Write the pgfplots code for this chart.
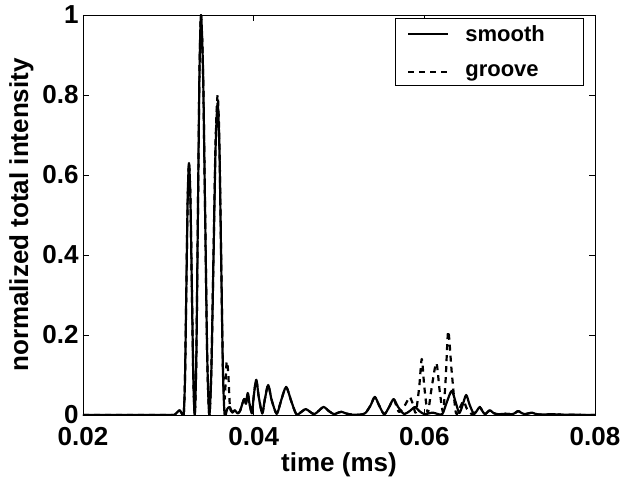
\documentclass[border=0pt]{standalone}
\usepackage{fontspec}
\setmainfont{Liberation Sans}
\usepackage{pgfplots}
\pgfplotsset{compat=1.18}
\begin{document}
\begin{tikzpicture}
\useasboundingbox (-83pt,-68pt) rectangle (538pt,415pt);
\begin{axis}[
  at={(0pt,0pt)}, anchor=south west,
  width=512pt, height=400pt, scale only axis,
  xmin=0.02, xmax=0.08, ymin=0, ymax=1,
  xtick={0.02,0.04,0.06,0.08}, xticklabels={0.02,0.04,0.06,0.08},
  ytick={0,0.2,0.4,0.6,0.8,1}, yticklabels={0,0.2,0.4,0.6,0.8,1},
  scaled x ticks=false, scaled y ticks=false,
  /pgf/number format/assume math mode=true,
  tick align=inside, major tick length=6pt,
  every tick/.style={black, line width=0.6pt},
  axis line style={line width=0.8pt},
  ticklabel style={font=\fontsize{26}{30}\selectfont\bfseries},
  xticklabel style={yshift=-9pt},
  yticklabel style={xshift=-1pt},
  xlabel={time (ms)}, ylabel={normalized total intensity},
  label style={font=\fontsize{26}{30}\selectfont\bfseries},
  xlabel style={yshift=0pt},
  ylabel style={yshift=2pt},
  legend style={at={(0.978,0.992)}, anchor=north east, draw=black, line width=0.8pt,
    font=\fontsize{22}{26}\selectfont\bfseries, row sep=18pt, inner xsep=12pt, inner ysep=5pt,
    /tikz/every odd column/.append style={column sep=14pt}},
  legend cell align=left,
  legend image code/.code={\draw[#1] (0pt,0pt) -- (40pt,0pt);},
  every axis plot/.append style={line join=round},
]
\addplot[black, line width=2.2pt, smooth, tension=0.45] coordinates {
(0.0200,0) (0.0300,0) (0.0308,0.002) (0.0313,0.012) (0.0316,0.003) (0.0318,0)
(0.031955,0.092) (0.03211,0.315) (0.032265,0.538) (0.03242,0.63) (0.03259,0.538) (0.03276,0.315) (0.03293,0.092) (0.0331,0)
(0.033283,0.146) (0.033465,0.5) (0.033648,0.854) (0.03383,1.0) (0.034073,0.854) (0.034315,0.5) (0.034558,0.146) (0.0348,0)
(0.035045,0.114) (0.03529,0.39) (0.035535,0.666) (0.03578,0.78) (0.035985,0.666) (0.03619,0.39) (0.036395,0.114) (0.0366,0)
(0.0369,0.015) (0.0372,0.02) (0.0375,0.006) (0.0378,0.012) (0.0381,0.004) (0.0384,0.01) (0.0387,0.03) (0.0389,0.04)
(0.0391,0.028) (0.0393,0.055) (0.0395,0.03) (0.0398,0.004) (0.0400,0.045) (0.0403,0.088) (0.0406,0.045) (0.0410,0.004)
(0.0413,0.038) (0.0417,0.075) (0.0421,0.038) (0.0427,0.003) (0.0432,0.035) (0.0438,0.07) (0.0444,0.035) (0.0450,0.002)
(0.0456,0.008) (0.0461,0.015) (0.0466,0.008) (0.0471,0.002) (0.0476,0.01) (0.0482,0.02) (0.0488,0.01) (0.0494,0.002)
(0.0498,0.005) (0.0503,0.008) (0.0508,0.004) (0.0515,0.001) (0.0525,0.001) (0.0531,0.005) (0.0537,0.024) (0.0542,0.045)
(0.0547,0.024) (0.0553,0.002) (0.0559,0.021) (0.0564,0.04) (0.0569,0.021) (0.0576,0.003) (0.0583,0.01) (0.0589,0.02)
(0.0594,0.01) (0.0600,0.002) (0.0605,0.004) (0.0610,0.006) (0.0615,0.003) (0.0621,0.002) (0.0626,0.03) (0.0632,0.06)
(0.0637,0.03) (0.0641,0.005) (0.0645,0.026) (0.0649,0.05) (0.0653,0.026) (0.0658,0.003) (0.0662,0.012) (0.0665,0.02)
(0.0668,0.01) (0.0671,0.002) (0.0674,0.007) (0.0677,0.012) (0.0681,0.005) (0.0686,0.002) (0.0695,0.003) (0.0703,0.002)
(0.0707,0.006) (0.0710,0.01) (0.0714,0.005) (0.0718,0.002) (0.0722,0.004) (0.0726,0.006) (0.0730,0.003) (0.0736,0.001)
(0.0750,0.002) (0.0760,0.001) (0.0800,0)
};
\addlegendentry{\makebox[104pt][l]{smooth}}
\addplot[black, line width=2.2pt, dash pattern=on 6pt off 5pt, smooth, tension=0.45] coordinates {
(0.0200,0) (0.0300,0) (0.0308,0.002) (0.0313,0.012) (0.0316,0.003) (0.0318,0)
(0.031955,0.092) (0.03211,0.315) (0.032265,0.538) (0.03242,0.63) (0.03259,0.538) (0.03276,0.315) (0.03293,0.092) (0.0331,0)
(0.033283,0.146) (0.033465,0.5) (0.033648,0.854) (0.03383,1.0) (0.034073,0.854) (0.034315,0.5) (0.034558,0.146) (0.0348,0)
(0.035045,0.117) (0.03529,0.4) (0.035535,0.683) (0.03578,0.80) (0.035985,0.683) (0.03619,0.4) (0.036395,0.117) (0.0366,0.04)
(0.03683,0.133) (0.03702,0.105) (0.03722,0.02) (0.0375,0.008) (0.0378,0.012) (0.0381,0.004) (0.0384,0.01) (0.0387,0.03) (0.0389,0.04)
(0.0391,0.028) (0.0393,0.055) (0.0395,0.03) (0.0398,0.004) (0.0400,0.045) (0.0403,0.088) (0.0406,0.045) (0.0410,0.004)
(0.0413,0.038) (0.0417,0.075) (0.0421,0.038) (0.0427,0.003) (0.0432,0.035) (0.0438,0.07) (0.0444,0.035) (0.0450,0.002)
(0.0456,0.008) (0.0461,0.015) (0.0466,0.008) (0.0471,0.002) (0.0476,0.01) (0.0482,0.02) (0.0488,0.01) (0.0494,0.002)
(0.0498,0.005) (0.0503,0.008) (0.0508,0.004) (0.0515,0.001) (0.0525,0.001) (0.0531,0.005) (0.0537,0.024) (0.0542,0.045)
(0.0547,0.024) (0.0553,0.002) (0.0559,0.021) (0.0564,0.04) (0.0570,0.008) (0.0576,0.02) (0.0580,0.035) (0.0583,0.045)
(0.0587,0.025) (0.0590,0.006) (0.0594,0.07) (0.0597,0.14) (0.0600,0.07) (0.0604,0.006) (0.0608,0.06) (0.0614,0.13)
(0.0618,0.06) (0.0622,0.008) (0.0625,0.09) (0.0628,0.21) (0.0632,0.11) (0.0637,0.005) (0.0642,0.02) (0.0646,0.035)
(0.0650,0.015) (0.0656,0.002) (0.0662,0.012) (0.0665,0.02) (0.0668,0.01) (0.0671,0.002) (0.0674,0.007) (0.0677,0.012)
(0.0681,0.005) (0.0686,0.002) (0.0695,0.003) (0.0703,0.002) (0.0707,0.006) (0.0710,0.01) (0.0714,0.005) (0.0718,0.002)
(0.0722,0.004) (0.0726,0.006) (0.0730,0.003) (0.0736,0.001) (0.0750,0.002) (0.0760,0.001) (0.0800,0)
};
\addlegendentry{\makebox[104pt][l]{groove}}
\end{axis}
\end{tikzpicture}
\end{document}
